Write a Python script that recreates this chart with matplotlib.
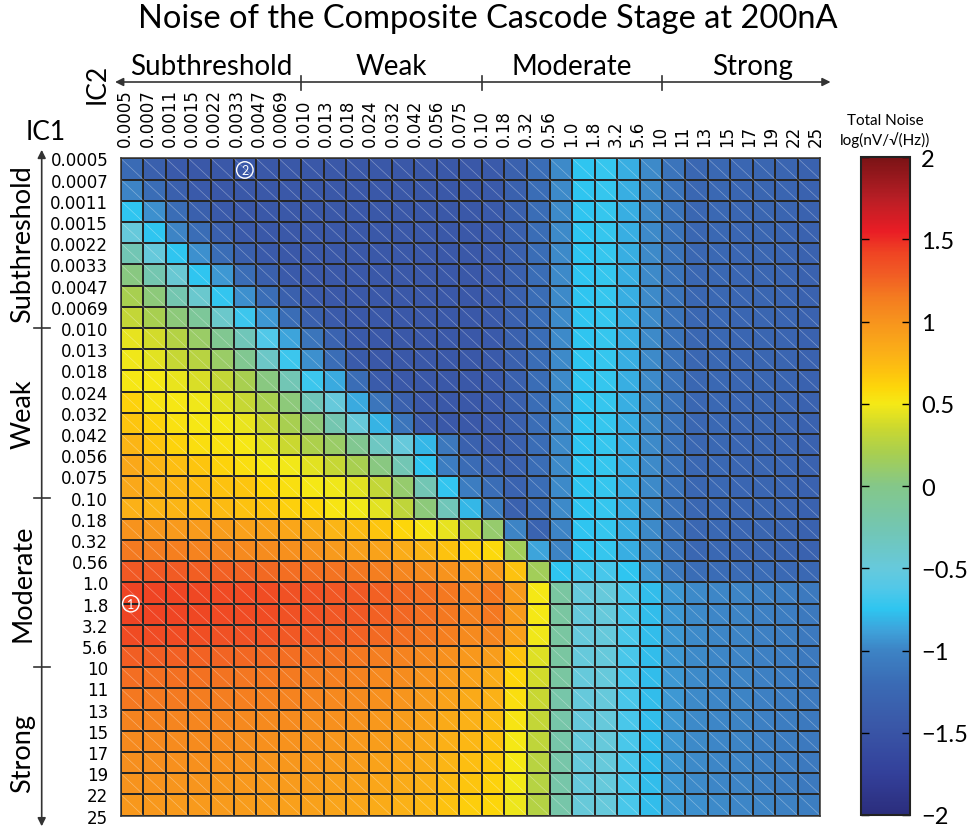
import numpy as np
import matplotlib
matplotlib.use('Agg')
import matplotlib.pyplot as plt
import matplotlib.transforms as mtransforms
from matplotlib.colors import LinearSegmentedColormap, Normalize
from matplotlib.collections import LineCollection
from matplotlib.patches import FancyArrowPatch
from matplotlib.lines import Line2D

# inversion coefficient levels at the grid vertices (IC1 rows, IC2 columns)
ic_levels = ['0.0005', '0.0007', '0.0011', '0.0015', '0.0022', '0.0033', '0.0047', '0.0069',
             '0.010', '0.013', '0.018', '0.024', '0.032', '0.042', '0.056', '0.075',
             '0.10', '0.18', '0.32', '0.56', '1.0', '1.8', '3.2', '5.6',
             '10', '11', '13', '15', '17', '19', '22', '25']
regions = ['Subthreshold', 'Weak', 'Moderate', 'Strong']
region_edges = [0, 8, 16, 24, 31]

# log10 of total noise, nV/sqrt(Hz); one row per IC1 cell, one column per IC2 cell
noise = [
    [-1.2, -1.35, -1.42, -1.45, -1.45, -1.45, -1.45, -1.45, -1.45, -1.45, -1.45, -1.45, -1.45, -1.45, -1.45, -1.45, -1.42, -1.33, -1.18, -0.97, -0.75, -0.72, -0.83, -0.97, -1.13, -1.25, -1.24, -1.26, -1.27, -1.28, -1.32],
    [-1.0, -1.18, -1.35, -1.42, -1.45, -1.45, -1.45, -1.45, -1.45, -1.45, -1.45, -1.45, -1.45, -1.45, -1.45, -1.45, -1.42, -1.33, -1.18, -0.97, -0.75, -0.72, -0.83, -0.97, -1.13, -1.25, -1.24, -1.26, -1.27, -1.28, -1.32],
    [-0.75, -0.95, -1.18, -1.35, -1.42, -1.45, -1.45, -1.45, -1.45, -1.45, -1.45, -1.45, -1.45, -1.45, -1.45, -1.45, -1.42, -1.33, -1.18, -0.97, -0.75, -0.72, -0.83, -0.97, -1.13, -1.25, -1.24, -1.26, -1.27, -1.28, -1.32],
    [-0.5, -0.75, -1.0, -1.18, -1.35, -1.42, -1.45, -1.45, -1.45, -1.45, -1.45, -1.45, -1.45, -1.45, -1.45, -1.45, -1.42, -1.33, -1.18, -0.97, -0.75, -0.72, -0.83, -0.97, -1.13, -1.25, -1.24, -1.26, -1.27, -1.28, -1.32],
    [-0.27, -0.5, -0.75, -0.95, -1.18, -1.35, -1.42, -1.45, -1.45, -1.45, -1.45, -1.45, -1.45, -1.45, -1.45, -1.45, -1.42, -1.33, -1.18, -0.97, -0.75, -0.72, -0.83, -0.97, -1.13, -1.25, -1.24, -1.26, -1.27, -1.28, -1.32],
    [0.03, -0.25, -0.45, -0.75, -0.92, -1.18, -1.35, -1.42, -1.45, -1.45, -1.45, -1.45, -1.45, -1.45, -1.45, -1.45, -1.42, -1.33, -1.18, -0.97, -0.75, -0.72, -0.83, -0.97, -1.13, -1.25, -1.24, -1.26, -1.27, -1.28, -1.32],
    [0.2, 0.05, -0.25, -0.42, -0.73, -0.95, -1.18, -1.35, -1.42, -1.45, -1.45, -1.45, -1.45, -1.45, -1.45, -1.45, -1.42, -1.33, -1.18, -0.97, -0.75, -0.72, -0.83, -0.97, -1.13, -1.25, -1.24, -1.26, -1.27, -1.28, -1.32],
    [0.32, 0.2, 0.05, -0.1, -0.4, -0.7, -0.92, -1.18, -1.35, -1.42, -1.45, -1.45, -1.45, -1.45, -1.45, -1.45, -1.42, -1.33, -1.18, -0.97, -0.75, -0.72, -0.83, -0.97, -1.13, -1.25, -1.24, -1.26, -1.27, -1.28, -1.32],
    [0.45, 0.38, 0.25, 0.12, -0.05, -0.3, -0.62, -0.87, -1.12, -1.3, -1.42, -1.45, -1.45, -1.45, -1.45, -1.45, -1.42, -1.33, -1.18, -0.97, -0.75, -0.72, -0.83, -0.97, -1.13, -1.25, -1.24, -1.26, -1.27, -1.28, -1.32],
    [0.48, 0.43, 0.33, 0.27, 0.12, -0.05, -0.38, -0.7, -0.95, -1.18, -1.4, -1.45, -1.45, -1.45, -1.45, -1.45, -1.42, -1.33, -1.18, -0.97, -0.75, -0.72, -0.83, -0.97, -1.13, -1.25, -1.24, -1.26, -1.27, -1.28, -1.32],
    [0.51, 0.5, 0.46, 0.4, 0.32, 0.2, 0.03, -0.28, -0.7, -0.85, -1.18, -1.4, -1.45, -1.45, -1.45, -1.45, -1.42, -1.33, -1.18, -0.97, -0.75, -0.72, -0.83, -0.97, -1.13, -1.25, -1.24, -1.26, -1.27, -1.28, -1.32],
    [0.62, 0.53, 0.51, 0.48, 0.43, 0.33, 0.2, 0.05, -0.3, -0.5, -0.85, -1.12, -1.35, -1.45, -1.45, -1.45, -1.42, -1.33, -1.18, -0.97, -0.75, -0.72, -0.83, -0.97, -1.13, -1.25, -1.24, -1.26, -1.27, -1.28, -1.32],
    [0.68, 0.61, 0.54, 0.51, 0.5, 0.46, 0.35, 0.2, 0.05, -0.25, -0.48, -0.82, -1.12, -1.4, -1.45, -1.45, -1.42, -1.33, -1.18, -0.97, -0.75, -0.72, -0.83, -0.97, -1.13, -1.25, -1.24, -1.26, -1.27, -1.28, -1.32],
    [0.78, 0.68, 0.61, 0.56, 0.54, 0.51, 0.43, 0.35, 0.22, 0.12, -0.05, -0.35, -0.5, -0.8, -1.1, -1.33, -1.4, -1.33, -1.18, -0.97, -0.75, -0.72, -0.83, -0.97, -1.13, -1.25, -1.24, -1.26, -1.27, -1.28, -1.32],
    [0.86, 0.78, 0.72, 0.68, 0.61, 0.56, 0.5, 0.49, 0.43, 0.33, 0.2, 0.03, -0.27, -0.75, -1.05, -1.2, -1.3, -1.33, -1.18, -0.97, -0.75, -0.72, -0.83, -0.97, -1.13, -1.25, -1.24, -1.26, -1.27, -1.28, -1.32],
    [0.86, 0.8, 0.78, 0.74, 0.7, 0.68, 0.6, 0.55, 0.5, 0.48, 0.43, 0.32, 0.1, -0.27, -0.73, -1.05, -1.18, -1.3, -1.18, -0.97, -0.75, -0.72, -0.83, -0.97, -1.13, -1.25, -1.24, -1.26, -1.27, -1.28, -1.32],
    [0.8, 0.78, 0.78, 0.75, 0.74, 0.7, 0.68, 0.63, 0.6, 0.53, 0.49, 0.43, 0.3, 0.05, -0.3, -0.8, -1.05, -1.33, -1.18, -0.97, -0.75, -0.72, -0.83, -0.97, -1.13, -1.25, -1.24, -1.26, -1.27, -1.28, -1.32],
    [1.0, 0.98, 0.96, 0.95, 0.93, 0.91, 0.9, 0.87, 0.83, 0.78, 0.74, 0.68, 0.6, 0.53, 0.45, 0.3, 0.1, -1.0, -1.3, -1.0, -0.75, -0.72, -0.83, -0.97, -1.13, -1.25, -1.24, -1.26, -1.27, -1.28, -1.32],
    [1.15, 1.14, 1.12, 1.1, 1.08, 1.06, 1.04, 1.02, 1.0, 0.96, 0.92, 0.9, 0.83, 0.78, 0.7, 0.63, 0.58, 0.17, -0.87, -1.0, -0.75, -0.72, -0.83, -0.97, -1.13, -1.25, -1.24, -1.26, -1.27, -1.28, -1.32],
    [1.3, 1.3, 1.29, 1.28, 1.27, 1.25, 1.23, 1.21, 1.2, 1.18, 1.16, 1.13, 1.08, 1.04, 1.0, 0.96, 0.95, 0.7, 0.17, -0.75, -0.68, -0.66, -0.75, -0.92, -1.08, -1.18, -1.19, -1.2, -1.19, -1.22, -1.24],
    [1.42, 1.42, 1.41, 1.4, 1.39, 1.38, 1.37, 1.35, 1.34, 1.32, 1.3, 1.27, 1.23, 1.2, 1.16, 1.1, 1.16, 0.95, 0.5, -0.15, -0.5, -0.5, -0.65, -0.78, -0.92, -0.97, -0.99, -1.0, -1.03, -1.05, -1.08],
    [1.42, 1.42, 1.41, 1.4, 1.39, 1.38, 1.37, 1.35, 1.34, 1.32, 1.3, 1.27, 1.24, 1.2, 1.16, 1.1, 1.16, 0.95, 0.5, -0.15, -0.5, -0.5, -0.65, -0.78, -0.92, -0.97, -0.99, -1.0, -1.03, -1.05, -1.08],
    [1.38, 1.38, 1.37, 1.36, 1.35, 1.34, 1.33, 1.31, 1.3, 1.28, 1.26, 1.23, 1.2, 1.16, 1.12, 1.06, 1.08, 0.92, 0.48, -0.15, -0.5, -0.5, -0.65, -0.78, -0.92, -0.97, -0.99, -1.0, -1.03, -1.05, -1.08],
    [1.28, 1.28, 1.27, 1.26, 1.25, 1.24, 1.23, 1.21, 1.2, 1.18, 1.16, 1.13, 1.1, 1.07, 1.02, 0.97, 0.93, 0.7, 0.42, -0.15, -0.5, -0.5, -0.65, -0.78, -0.92, -0.97, -0.99, -1.0, -1.03, -1.05, -1.08],
    [1.21, 1.2, 1.2, 1.19, 1.18, 1.17, 1.16, 1.15, 1.13, 1.12, 1.1, 1.07, 1.04, 1.0, 0.95, 0.9, 0.83, 0.6, 0.38, -0.15, -0.5, -0.5, -0.65, -0.78, -0.92, -0.97, -0.99, -1.0, -1.03, -1.05, -1.08],
    [1.16, 1.15, 1.15, 1.14, 1.13, 1.12, 1.11, 1.1, 1.08, 1.07, 1.05, 1.02, 0.99, 0.95, 0.9, 0.85, 0.8, 0.56, 0.34, -0.2, -0.5, -0.5, -0.65, -0.78, -0.92, -0.97, -0.99, -1.0, -1.03, -1.05, -1.08],
    [1.1, 1.1, 1.09, 1.08, 1.08, 1.07, 1.06, 1.05, 1.03, 1.02, 1.0, 0.97, 0.94, 0.9, 0.85, 0.8, 0.73, 0.53, 0.32, -0.2, -0.5, -0.5, -0.65, -0.78, -0.92, -0.97, -0.99, -1.0, -1.03, -1.05, -1.08],
    [1.06, 1.06, 1.05, 1.05, 1.04, 1.03, 1.02, 1.01, 1.0, 0.98, 0.96, 0.93, 0.9, 0.86, 0.81, 0.76, 0.7, 0.5, 0.3, -0.2, -0.5, -0.5, -0.65, -0.78, -0.92, -0.97, -0.99, -1.0, -1.03, -1.05, -1.08],
    [1.03, 1.03, 1.02, 1.02, 1.01, 1.0, 0.99, 0.98, 0.97, 0.95, 0.93, 0.9, 0.87, 0.83, 0.78, 0.72, 0.66, 0.5, 0.27, -0.2, -0.5, -0.5, -0.65, -0.78, -0.92, -0.97, -0.99, -1.0, -1.03, -1.05, -1.08],
    [1.0, 1.0, 0.99, 0.99, 0.98, 0.97, 0.96, 0.95, 0.94, 0.92, 0.9, 0.87, 0.84, 0.8, 0.74, 0.68, 0.62, 0.49, 0.26, -0.2, -0.5, -0.5, -0.65, -0.78, -0.92, -0.97, -0.99, -1.0, -1.03, -1.05, -1.08],
    [0.97, 0.97, 0.96, 0.96, 0.95, 0.94, 0.93, 0.92, 0.91, 0.89, 0.87, 0.84, 0.8, 0.76, 0.7, 0.64, 0.6, 0.47, 0.25, -0.2, -0.48, -0.5, -0.65, -0.78, -0.9, -0.95, -0.97, -0.99, -1.0, -1.02, -1.04],
]

# marked operating points: (IC2 position, IC1 position, label)
markers = [(0.45, 21.0, '1'), (5.5, 0.55, '2')]

cmap_stops = [
    (-2.0, '#2b2d7c'), (-1.75, '#33409a'), (-1.45, '#3a58a8'), (-1.2, '#3a6bb5'),
    (-1.0, '#3d84c5'), (-0.88, '#3ea2da'), (-0.75, '#2ec5f0'), (-0.62, '#52c8e8'),
    (-0.5, '#66c9dc'), (-0.27, '#72c6b4'), (0.0, '#84c789'), (0.2, '#a8cf50'),
    (0.35, '#cad830'), (0.5, '#f5e916'), (0.6, '#fdd60a'), (0.7, '#fdc20f'),
    (0.8, '#fbb117'), (1.0, '#f7941d'), (1.15, '#f47b20'), (1.3, '#f15a24'),
    (1.42, '#ef4423'), (1.55, '#ea1d25'), (1.75, '#b81e25'), (2.0, '#7a1315'),
]
cmap = LinearSegmentedColormap.from_list(
    'noise', [((v + 2) / 4, c) for v, c in cmap_stops], N=512)

label_font = ['Lato', 'DejaVu Sans']
W, H = 967, 828
fig = plt.figure(figsize=(W / 100, H / 100), dpi=100)

def fx(px):
    return px / W

def fy(py):
    return 1 - py / H

ax = fig.add_axes([fx(120.7), fy(816.7), fx(699.7), 657.4 / H])
cax = fig.add_axes([fx(861), fy(816), fx(49), 658 / H])

Z = np.array(noise)
ny, nx = Z.shape
mesh = ax.pcolormesh(np.arange(nx + 1), np.arange(ny + 1), Z, cmap=cmap,
                     norm=Normalize(-2, 2), edgecolors='#262626', linewidth=1.1)

# faint triangulation seam across every cell
segs = [[(j, i), (j + 1, i + 1)] for i in range(ny) for j in range(nx)]
ax.add_collection(LineCollection(segs, colors='white', linewidths=0.5, alpha=0.35))

ax.set_xlim(0, nx)
ax.set_ylim(ny, 0)
for s in ax.spines.values():
    s.set_color('#333333')
    s.set_linewidth(1.1)

ax.xaxis.tick_top()
xpos = 0.2 + np.arange(len(ic_levels)) * (30.8 - 0.2) / 31
ax.set_xticks(xpos)
ax.set_xticklabels(ic_levels, rotation=90, fontsize=12)
ax.set_yticks(np.arange(len(ic_levels)))
ax.set_yticklabels(ic_levels, fontsize=12)
ax.tick_params(axis='both', length=0)
ax.tick_params(axis='x', pad=9)
ax.tick_params(axis='y', pad=9)

for x, y, t in markers:
    ax.text(x, y, t, ha='center', va='center', color='white', fontsize=9,
            family=label_font,
            bbox=dict(boxstyle='circle,pad=0.18', fc='none', ec='white', lw=1.0))

# region arrows along IC2 (top) and IC1 (left)
top = mtransforms.blended_transform_factory(ax.transData, fig.transFigure)
left = mtransforms.blended_transform_factory(fig.transFigure, ax.transData)
arrow_kw = dict(arrowstyle='<|-|>', mutation_scale=12, color='#333333', lw=1.2)

fig.add_artist(FancyArrowPatch((-0.25, fy(83)), (31.45, fy(83)), transform=top,
                               shrinkA=0, shrinkB=0, **arrow_kw))
fig.add_artist(FancyArrowPatch((fx(41.7), -0.4), (fx(41.7), 31.5), transform=left,
                               shrinkA=0, shrinkB=0, **arrow_kw))
for e in region_edges[1:-1]:
    fig.add_artist(Line2D([e, e], [fy(77), fy(91)], transform=top, color='#333333', lw=1.2))
    fig.add_artist(Line2D([fx(34), fx(50)], [e, e], transform=left, color='#333333', lw=1.2))

for name, a, b in zip(regions, region_edges[:-1], region_edges[1:]):
    mid = (a + b) / 2 if b < 31 else 28
    fig.text(mid, fy(75), name, transform=top, ha='center', va='baseline',
             fontsize=20, family=label_font)
    fig.text(fx(23), mid, name, transform=left, ha='center', va='center',
             rotation=90, fontsize=19.5, family=label_font)

fig.text(fx(97), fy(84), 'IC2', rotation=90, ha='center', va='center',
         fontsize=19, family=label_font)
fig.text(fx(46), fy(133), 'IC1', ha='center', va='center',
         fontsize=19, family=label_font)

fig.text(fx(488), fy(19), 'Noise of the Composite Cascode Stage at 200nA',
         ha='center', va='center', fontsize=23.5, family=label_font)

# colorbar with inward ticks on both sides
cb = fig.colorbar(mesh, cax=cax)
cb_ticks = [-2, -1.5, -1, -0.5, 0, 0.5, 1, 1.5, 2]
cb.set_ticks(cb_ticks)
cb.set_ticklabels([f'{t:g}'.replace('-', '\u2212') for t in cb_ticks])
cax.tick_params(direction='in', left=True, right=True, length=6, width=1,
                labelsize=17, pad=8)
for lab in cax.get_yticklabels():
    lab.set_family(label_font)
cb.outline.set_linewidth(1.5)
cb.outline.set_edgecolor('#222222')

fig.text(fx(885), fy(121), 'Total Noise', ha='center', va='center',
         fontsize=11, family=label_font)
fig.text(fx(885), fy(140), 'log(nV/\u221a(Hz))', ha='center', va='center',
         fontsize=11, family=label_font)

fig.savefig('out.png', dpi=100)
